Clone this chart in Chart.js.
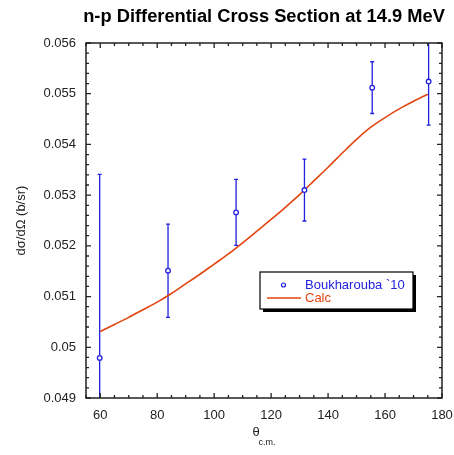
<!DOCTYPE html>
<html>
<head>
<meta charset="utf-8">
<script src="https://cdn.jsdelivr.net/npm/chart.js@4.4.1/dist/chart.umd.min.js"></script>
<style>
  html, body { margin: 0; padding: 0; background: #fff; }
  #wrap { width: 454px; height: 455px; }
</style>
</head>
<body>
<div id="wrap"><canvas id="myViz" width="454" height="455"></canvas></div>
<script>
// measured data (Boukharouba `10)
const expTheta = [59.8, 83.8, 107.7, 131.7, 155.5, 175.3];
const expXs = [0.04979, 0.05151, 0.05266, 0.05310, 0.05512, 0.05524];
const expErr = [0.00362, 0.00092, 0.00065, 0.00061, 0.00051, 0.00086];

// calculation
const calcTheta = [60, 65, 70, 75, 80, 85, 90, 95, 100, 105, 110, 115, 120,
    125, 130, 135, 140, 145, 150, 155, 160, 165, 170, 175];
const calcXs = [0.05031, 0.05045, 0.05059, 0.05074, 0.05089, 0.05106, 0.05125,
    0.05144, 0.05164, 0.05184, 0.05206, 0.05229, 0.05252, 0.05276, 0.05301,
    0.05328, 0.05355, 0.05383, 0.05410, 0.05434, 0.05453, 0.05470, 0.05485, 0.05499];

// axes
const xTicks = [60, 80, 100, 120, 140, 160, 180];
const yTicks = [0.049, 0.05, 0.051, 0.052, 0.053, 0.054, 0.055, 0.056];

const BLUE = '#2222dd';
const RED = '#e2450f';
const FONT = '"Liberation Sans", Arial, sans-serif';

const framePlugin = {
    id: 'frame',
    beforeDatasetsDraw(chart) {
        // error bars
        const ctx = chart.ctx;
        const xs = chart.scales.x, ys = chart.scales.y;
        const a = chart.chartArea;
        ctx.save();
        ctx.beginPath();
        ctx.rect(a.left, a.top, a.right - a.left, a.bottom - a.top);
        ctx.clip();
        ctx.strokeStyle = BLUE;
        ctx.lineWidth = 1.3;
        expTheta.forEach((t, i) => {
            const px = xs.getPixelForValue(t);
            const y1 = ys.getPixelForValue(expXs[i] + expErr[i]);
            const y2 = ys.getPixelForValue(expXs[i] - expErr[i]);
            ctx.beginPath();
            ctx.moveTo(px, y1); ctx.lineTo(px, y2);
            ctx.moveTo(px - 2, y1); ctx.lineTo(px + 2, y1);
            ctx.moveTo(px - 2, y2); ctx.lineTo(px + 2, y2);
            ctx.stroke();
        });
        ctx.restore();
    },
    afterDraw(chart) {
        const ctx = chart.ctx;
        const xs = chart.scales.x, ys = chart.scales.y;
        const a = chart.chartArea;
        ctx.save();
        // frame
        ctx.strokeStyle = '#222';
        ctx.lineWidth = 1.5;
        ctx.strokeRect(a.left, a.top, a.right - a.left, a.bottom - a.top);
        // inward ticks on all sides
        ctx.lineWidth = 1.3;
        ctx.beginPath();
        for (let v = 55; v <= 180; v += 5) {
            const px = xs.getPixelForValue(v);
            const len = (v % 20 === 0) ? 5 : 3;
            ctx.moveTo(px, a.bottom); ctx.lineTo(px, a.bottom - len);
            ctx.moveTo(px, a.top); ctx.lineTo(px, a.top + len);
        }
        for (let k = 0; k <= 35; k++) {
            const v = 0.049 + k * 0.0002;
            const py = ys.getPixelForValue(v);
            const len = (k % 5 === 0) ? 5 : 3;
            ctx.moveTo(a.left, py); ctx.lineTo(a.left + len, py);
            ctx.moveTo(a.right, py); ctx.lineTo(a.right - len, py);
        }
        ctx.stroke();

        // title
        ctx.fillStyle = '#000';
        ctx.textAlign = 'center';
        ctx.textBaseline = 'middle';
        ctx.font = 'bold 18.3px ' + FONT;
        ctx.fillText('n-p Differential Cross Section at 14.9 MeV', (a.left + a.right) / 2, 17);

        // x title
        ctx.font = '13px ' + FONT;
        ctx.fillStyle = '#222';
        ctx.fillText('\u03B8', 256, 432);
        ctx.font = '9px ' + FONT;
        ctx.fillText('c.m.', 267, 443);

        // y title
        ctx.save();
        ctx.translate(21, (a.top + a.bottom) / 2);
        ctx.rotate(-Math.PI / 2);
        ctx.font = '13px ' + FONT;
        ctx.fillText('d\u03C3/d\u03A9 (b/sr)', 0, 0);
        ctx.restore();

        // legend box
        const bx = 260, by = 272, bw = 153, bh = 37;
        ctx.fillStyle = '#000';
        ctx.fillRect(bx + 3, by + 3, bw, bh);
        ctx.fillStyle = '#fff';
        ctx.fillRect(bx, by, bw, bh);
        ctx.strokeStyle = '#000';
        ctx.lineWidth = 1.2;
        ctx.strokeRect(bx, by, bw, bh);
        ctx.strokeStyle = BLUE;
        ctx.lineWidth = 1.2;
        ctx.beginPath();
        ctx.arc(283.5, 285, 2, 0, Math.PI * 2);
        ctx.stroke();
        ctx.strokeStyle = RED;
        ctx.lineWidth = 1.5;
        ctx.beginPath();
        ctx.moveTo(267, 298); ctx.lineTo(301, 298);
        ctx.stroke();
        ctx.textAlign = 'left';
        ctx.font = '13px ' + FONT;
        ctx.fillStyle = BLUE;
        ctx.fillText('Boukharouba `10', 305, 285);
        ctx.fillStyle = RED;
        ctx.fillText('Calc', 305, 298);
        ctx.restore();
    },
};

const config = {
    type: 'scatter',
    plugins: [framePlugin],
    data: {
        datasets: [
            {
                label: 'Calc',
                data: calcTheta.map((t, i) => ({ x: t, y: calcXs[i] })),
                showLine: true,
                borderColor: RED,
                borderWidth: 1.6,
                pointRadius: 0,
                cubicInterpolationMode: 'monotone',
                order: 2,
            },
            {
                label: 'Boukharouba `10',
                data: expTheta.map((t, i) => ({ x: t, y: expXs[i] })),
                showLine: false,
                pointStyle: 'circle',
                pointRadius: 2.3,
                borderWidth: 1.3,
                borderColor: BLUE,
                backgroundColor: '#fff',
                order: 1,
            },
        ],
    },
    options: {
        responsive: false,
        animation: false,
        layout: { padding: { top: 43, right: 12, bottom: 0, left: 0 } },
        scales: {
            x: {
                type: 'linear',
                min: 55,
                max: 180,
                afterBuildTicks: (s) => { s.ticks = xTicks.map((v) => ({ value: v })); },
                afterFit: (s) => { s.height = 57; s.paddingLeft = 0; s.paddingRight = 0; },
                grid: { display: false, drawTicks: false },
                border: { display: false },
                ticks: {
                    color: '#222',
                    padding: 10,
                    font: { family: FONT, size: 13 },
                    maxRotation: 0,
                },
            },
            y: {
                type: 'linear',
                min: 0.049,
                max: 0.056,
                afterBuildTicks: (s) => { s.ticks = yTicks.map((v) => ({ value: v })); },
                afterFit: (s) => { s.width = 86; s.paddingTop = 0; s.paddingBottom = 0; },
                grid: { display: false, drawTicks: false },
                border: { display: false },
                ticks: {
                    color: '#222',
                    padding: 10,
                    font: { family: FONT, size: 13 },
                    callback: (v) => String(+Number(v).toFixed(3)),
                },
            },
        },
        plugins: {
            legend: { display: false },
            title: { display: false },
            tooltip: { enabled: false },
        },
    },
};

new Chart(document.getElementById('myViz').getContext('2d'), config);
</script>
</body>
</html>
